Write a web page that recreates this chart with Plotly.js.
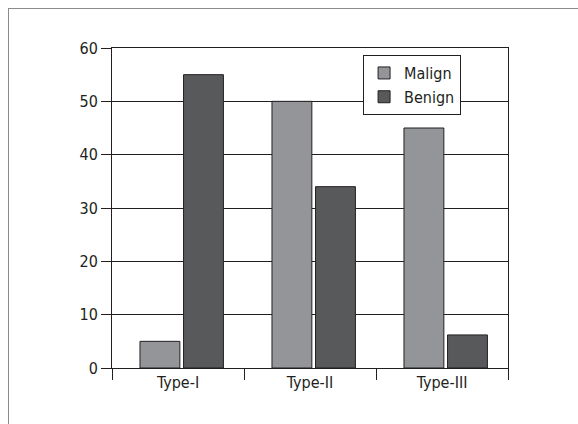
<!DOCTYPE html>
<html>
<head>
<meta charset="utf-8">
<script src="https://cdn.plot.ly/plotly-3.0.1.min.js"></script>
<style>
  html, body { margin: 0; padding: 0; background: #ffffff; }
  #wrap { position: relative; width: 578px; height: 424px; overflow: hidden; }
  #frame { position: absolute; left: 8px; top: 8px; width: 700px; height: 600px;
           border-left: 1.5px solid #8c8c8c; border-top: 1.5px solid #8c8c8c; }
  #chart { position: absolute; left: 0; top: 0; width: 578px; height: 424px; }
</style>
</head>
<body>
<div id="wrap">
  <div id="frame"></div>
  <div id="chart"></div>
</div>
<script>
const categories = ["Type-I", "Type-II", "Type-III"];
const malign = [5, 50, 45];
const benign = [55, 34, 6.2];
const seriesNames = ["Malign", "Benign"];
const yTicks = [0, 10, 20, 30, 40, 50, 60];

const FONT = "'Liberation Sans Narrow', 'DejaVu Sans Condensed', 'Arial Narrow', sans-serif";
const INK = "#231f20";

const traces = [
  { type: "bar", name: seriesNames[0], x: categories, y: malign,
    offset: -0.288, width: 0.302,
    marker: { color: "#939598", line: { color: INK, width: 1 } } },
  { type: "bar", name: seriesNames[1], x: categories, y: benign,
    offset: 0.042, width: 0.302,
    marker: { color: "#58595b", line: { color: INK, width: 1 } } }
];

const layout = {
  width: 578, height: 424,
  margin: { l: 112, r: 70, t: 48, b: 56, pad: 0 },
  paper_bgcolor: "rgba(0,0,0,0)",
  plot_bgcolor: "rgba(0,0,0,0)",
  font: { family: FONT, size: 16, color: INK },
  barmode: "overlay",
  showlegend: true,
  legend: {
    x: 0.634, y: 0.978, xanchor: "left", yanchor: "top",
    bgcolor: "#ffffff", bordercolor: INK, borderwidth: 1,
    font: { family: FONT, size: 16, color: INK },
    itemwidth: 30, tracegroupgap: 0
  },
  xaxis: {
    type: "category",
    showline: true, linecolor: INK, linewidth: 1, mirror: true,
    ticks: "outside", tickson: "boundaries", ticklen: 11, tickcolor: INK, tickwidth: 1,
    showgrid: false, zeroline: false,
    tickfont: { family: FONT, size: 16, color: INK },
    fixedrange: true
  },
  yaxis: {
    range: [0, 60], tickvals: yTicks, ticktext: yTicks.map(String),
    showline: true, linecolor: INK, linewidth: 1, mirror: true,
    ticks: "outside", ticklen: 10, tickcolor: INK, tickwidth: 1,
    showgrid: true, gridcolor: INK, gridwidth: 1,
    zeroline: false,
    tickfont: { family: FONT, size: 16, color: INK },
    fixedrange: true
  }
};

Plotly.newPlot("chart", traces, layout, { displayModeBar: false, staticPlot: true });
</script>
</body>
</html>
